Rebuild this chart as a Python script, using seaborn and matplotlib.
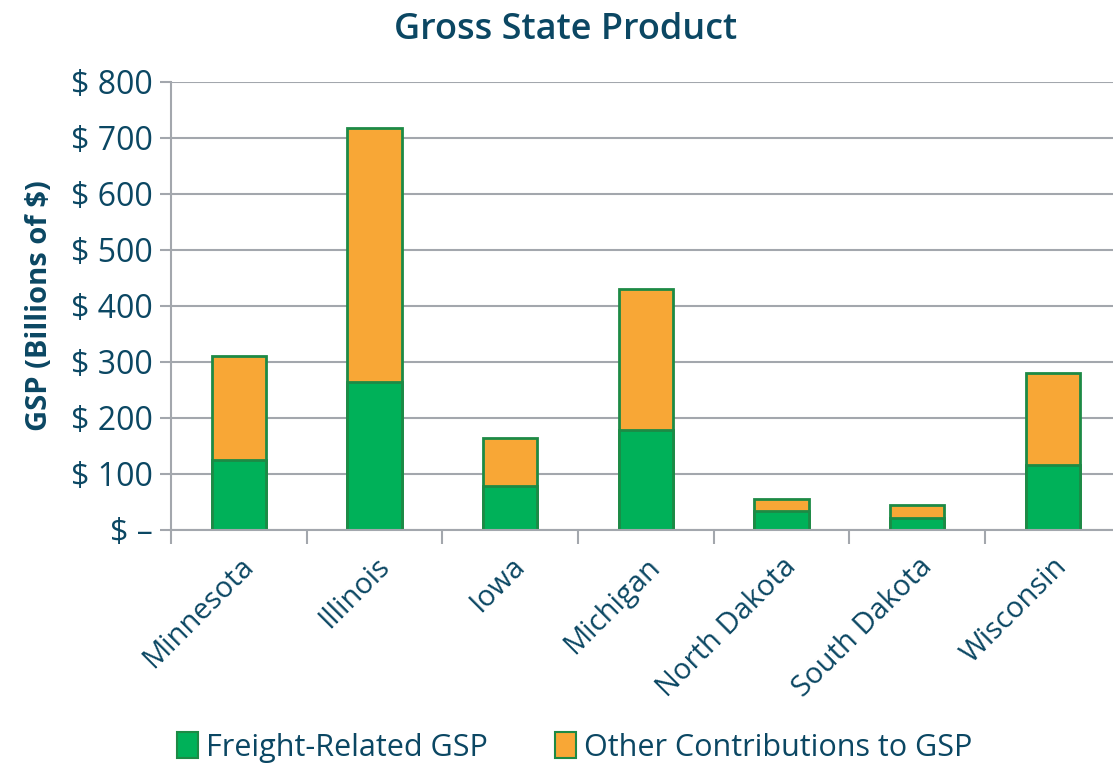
import pandas as pd
import matplotlib
matplotlib.use("Agg")
import matplotlib.pyplot as plt
import seaborn as sns
from matplotlib.patches import Patch
from matplotlib.ticker import FuncFormatter, FixedLocator

states = ["Minnesota", "Illinois", "Iowa", "Michigan",
          "North Dakota", "South Dakota", "Wisconsin"]
freight = [125, 264, 79, 179, 34, 21, 116]
other = [186, 454, 85, 251, 21, 24, 164]

df = pd.DataFrame({"state": states, "freight": freight, "other": other})
df["total"] = df["freight"] + df["other"]

text_col = "#0b4763"
green = "#00b159"
orange = "#f8a736"
edge = "#1d8a45"
grey = "#a3a7ad"

sns.set_style("white")
plt.rcParams["font.family"] = ["Open Sans", "DejaVu Sans"]

fig = plt.figure(figsize=(11.13, 7.7), dpi=100)
ax = fig.add_axes([171 / 1113, 240 / 770, 949.7 / 1113, 448 / 770])

sns.barplot(data=df, x="state", y="total", color=orange, edgecolor=edge,
            linewidth=2, width=0.4, saturation=1, ax=ax)
sns.barplot(data=df, x="state", y="freight", color=green, edgecolor=edge,
            linewidth=2, width=0.4, saturation=1, ax=ax)

ax.set_xlim(-0.5, 6.5)
ax.set_ylim(0, 800)
ax.set_yticks(range(0, 801, 100))
ax.yaxis.set_major_formatter(FuncFormatter(lambda v, p: "$ \u2013" if v == 0 else "$ %d" % v))
ax.grid(axis="y", color=grey, linewidth=1.5)
ax.set_axisbelow(True)

for s in ["top", "right"]:
    ax.spines[s].set_visible(False)
for s in ["left", "bottom"]:
    ax.spines[s].set_color(grey)
    ax.spines[s].set_linewidth(1.5)

ax.tick_params(axis="y", length=8, width=1.5, color=grey, labelsize=23,
               labelcolor=text_col, pad=5, left=True)
ax.tick_params(axis="x", which="major", length=0, labelsize=21,
               labelcolor=text_col, pad=16)
ax.xaxis.set_minor_locator(FixedLocator([i - 0.5 for i in range(8)]))
ax.tick_params(axis="x", which="minor", length=10, width=1.5, color=grey,
               bottom=True)
plt.setp(ax.get_xticklabels(), rotation=45, ha="right", rotation_mode="anchor")

ax.set_xlabel("")
ax.set_ylabel("GSP (Billions of $)", fontsize=21, fontweight="bold",
              color=text_col, labelpad=12)
fig.suptitle("Gross State Product", x=0.508, y=0.985, fontsize=26,
             fontweight="semibold", color=text_col)

handles = [Patch(facecolor=green, edgecolor=edge, linewidth=1.5),
           Patch(facecolor=orange, edgecolor=edge, linewidth=1.5)]
fig.legend(handles, ["Freight-Related GSP", "Other Contributions to GSP"],
           loc="lower center", bbox_to_anchor=(0.516, -0.026), ncol=2,
           frameon=False, fontsize=22, labelcolor=text_col,
           handlelength=0.7, handleheight=0.9, handletextpad=0.25,
           columnspacing=2.2)

fig.savefig("out.png", dpi=100)
